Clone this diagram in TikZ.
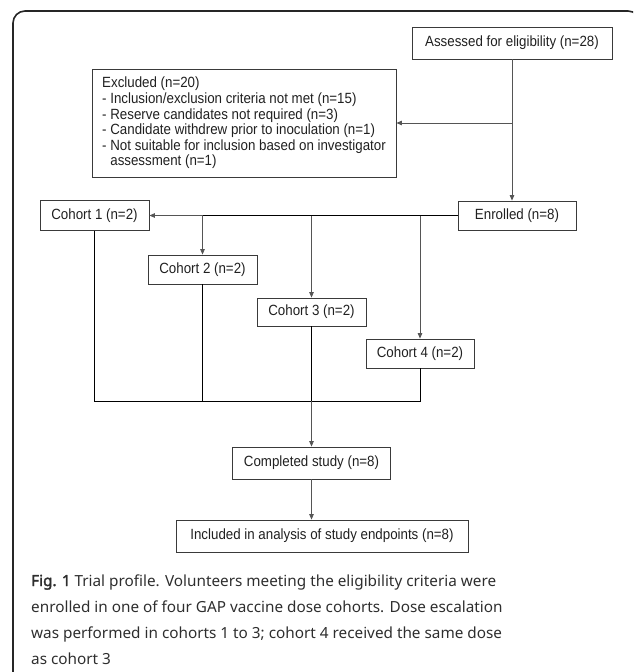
\documentclass[tikz,border=0pt]{standalone}
\usepackage{fontspec}
\setmainfont{Liberation Sans}[FakeStretch=0.9]
\newfontfamily\capfont{Noto Sans}
\newfontfamily\capbold{Noto Sans}[FakeBold=2.2]
\usetikzlibrary{arrows.meta}
\definecolor{boxline}{HTML}{3A3A3A}
\definecolor{arrline}{HTML}{555555}
\definecolor{txt}{HTML}{202020}
\definecolor{captxt}{HTML}{2E2E2E}
\tikzset{
  box/.style={draw=boxline, line width=0.8pt, inner sep=0pt, text=txt,
    font=\fontsize{14.8}{15.6}\selectfont, minimum height=30pt, anchor=center},
  arr/.style={draw=arrline, line width=0.8pt, -{Triangle[length=5.5pt,width=4.5pt]}},
  plain/.style={draw=black, line width=0.8pt},
  captext/.style={anchor=base west, inner sep=0pt, text=captxt,
    font=\capfont\fontsize{15.3}{26}\selectfont}
}
\begin{document}
\begin{tikzpicture}[x=1pt,y=-1pt]
\useasboundingbox (0,0) rectangle (633,672);
\begin{scope}
  \clip (0,0) rectangle (633,672);
  \draw[line width=1.6pt, draw=black!85, rounded corners=12pt]
    (13,700) -- (13,11) -- (640,11) -- (640,700);
\end{scope}

% boxes
\node[box, minimum width=200pt, minimum height=32pt] (assess) at (512,43) {Assessed for eligibility (n=28)};
\node[box, minimum width=304pt, minimum height=108pt, align=left] (excl) at (244,123)
  {Excluded (n=20)\\
   - Inclusion/exclusion criteria not met (n=15)\\
   - Reserve candidates not required (n=3)\\
   - Candidate withdrew prior to inoculation (n=1)\\
   - Not suitable for inclusion based on investigator\\
   \hphantom{- }assessment (n=1)};
\node[box, minimum width=118pt, minimum height=29pt] (enrol) at (517,215.5) {Enrolled (n=8)};
\node[box, minimum width=109pt, minimum height=30pt] (c1) at (94.5,215.5) {Cohort 1 (n=2)};
\node[box, minimum width=109pt, minimum height=29pt] (c2) at (202.5,269.5) {Cohort 2 (n=2)};
\node[box, minimum width=109pt, minimum height=28pt] (c3) at (311.5,312) {Cohort 3 (n=2)};
\node[box, minimum width=108pt, minimum height=29pt] (c4) at (420,353.5) {Cohort 4 (n=2)};
\node[box, minimum width=158pt, minimum height=32pt] (comp) at (311.5,463) {Completed study (n=8)};
\node[box, minimum width=292pt, minimum height=32pt] (incl) at (322,536) {Included in analysis of study endpoints (n=8)};

% connectors
\coordinate (jx) at (512,123);
\coordinate (m) at (311.5,401);
\draw[arr] (assess.south -| jx) -- (jx |- enrol.north);
\draw[arr] (jx) -- (excl.east);
\draw[plain] (enrol.west) -- (c2.north |- enrol.west);
\draw[arr] (c2.north |- enrol.west) -- (c1.east);
\draw[arr] (c2.north |- enrol.west) -- (c2.north);
\draw[arr] (c3.north |- enrol.west) -- (c3.north);
\draw[arr] (c4.north |- enrol.west) -- (c4.north);
\draw[plain] (c1.south) -- (c1.south |- m) -- (c4.south |- m) -- (c4.south);
\draw[plain] (c2.south) -- (c2.south |- m);
\draw[plain] (c3.south) -- (m);
\draw[arr] (m) -- (comp.north);
\draw[arr] (comp.south) -- (comp.south |- incl.north);

% caption
\node[captext] (cap1) at (31,586) {{\capbold Fig. 1} Trial profile. Volunteers meeting the eligibility criteria were};
\node[captext] (cap2) at (31,612) {enrolled in one of four GAP vaccine dose cohorts. Dose escalation};
\node[captext] (cap3) at (31,638) {was performed in cohorts 1 to 3; cohort 4 received the same dose};
\node[captext] (cap4) at (31,664) {as cohort 3};
\end{tikzpicture}
\end{document}
